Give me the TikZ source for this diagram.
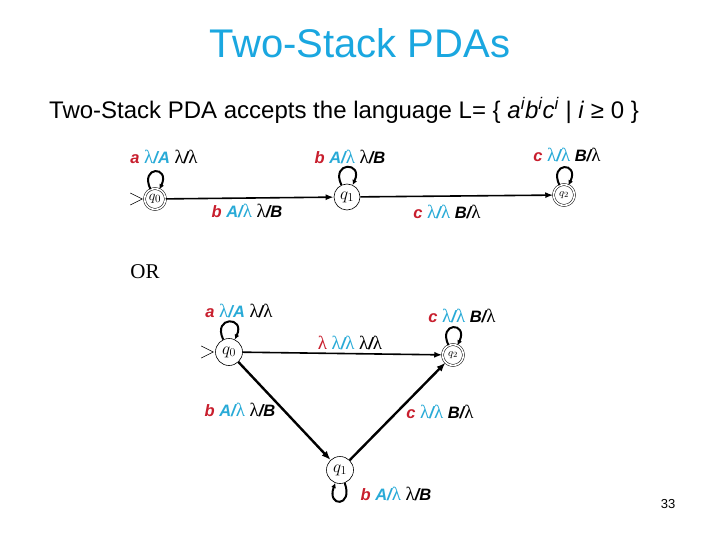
\documentclass[tikz,border=0pt]{standalone}
\usepackage{fontspec}
\setmainfont{Liberation Serif}
\setsansfont{Liberation Sans}
\newfontfamily\lamfont{Liberation Serif}
\usetikzlibrary{arrows.meta}
\definecolor{inred}{RGB}{200,30,45}
\definecolor{incyan}{RGB}{40,170,215}
\definecolor{titleblue}{RGB}{26,167,224}
\newcommand{\lm}{{\lamfont\upshape\mdseries\fontsize{19}{20}\selectfont λ}}
\newcommand{\trl}[3]{\textcolor{inred}{#1} \textcolor{incyan}{#2} #3}
\tikzset{
  st/.style={circle, draw, line width=0.6pt, inner sep=0pt, minimum size=#1, font=\fontsize{17}{18}\selectfont},
  acc/.style={circle, draw, line width=0.5pt, double, double distance=1.6pt, inner sep=0pt, minimum size=#1, font=\fontsize{15}{16}\selectfont},
  lab/.style={font=\fontsize{16.5}{19}\selectfont\sffamily\itshape\bfseries, inner sep=0pt},
  tedge/.style={line width=1.6pt, -{Latex[length=8pt,width=6pt]}},
  dedge/.style={line width=2.4pt, -{Latex[length=9pt,width=7pt]}},
  lp/.style={line width=2pt, -{Latex[length=5pt,width=5pt]}, min distance=26pt, max distance=26pt},
  startm/.style={line width=0.6pt},
}
\begin{document}
\begin{tikzpicture}[x=1pt,y=-1pt]
\useasboundingbox[fill=white] (0,0) rectangle (720,540);

\node[font=\fontsize{40}{44}\selectfont\sffamily, text=titleblue] (title) at (360,43) {Two-Stack PDAs};
\node[font=\fontsize{24}{28}\selectfont\sffamily] (sub) at (344,110) {Two-Stack PDA accepts the language L= \{ \textit{a\textsuperscript{i}b\textsuperscript{i}c\textsuperscript{i}} | \textit{i} ≥ 0 \}};
\node[font=\fontsize{21}{24}\selectfont\rmfamily] (or) at (145,272) {OR};
\node[font=\fontsize{13}{15}\selectfont\sffamily] (pg) at (668,504) {33};

% ---- top diagram ----
\node[acc=21pt] (a0) at (155,199) {$q_0$};
\node[st=26pt] (a1) at (347,197) {$q_1$};
\node[acc=21pt, font=\fontsize{11}{12}\selectfont] (a2) at (564,195) {$q_2$};

\coordinate (as) at ([xshift=-2pt]a0.west);
\draw[startm] ([shift={(-12,-6)}]as) -- (as) -- ([shift={(-12,6)}]as);

\draw[tedge] (a0) -- (a1);
\draw[tedge] (a1) -- (a2);
\draw[lp] (a0) to[out=115,in=65] (a0);
\draw[lp] (a1) to[out=115,in=65] (a1);
\draw[lp] (a2) to[out=115,in=65] (a2);

\node[lab] (la0) at (164,157) {\trl{a}{\lm/A}{\lm/\lm}};
\node[lab] (la1) at (350,157) {\trl{b}{A/\lm}{\lm/B}};
\node[lab] (la2) at (567,155) {\trl{c}{\lm/\lm}{B/\lm}};
\node[lab] (la01) at (247,211) {\trl{b}{A/\lm}{\lm/B}};
\node[lab] (la12) at (447,212) {\trl{c}{\lm/\lm}{B/\lm}};

% ---- bottom diagram ----
\node[st=27pt] (b0) at (229,352) {$q_0$};
\node[acc=21pt, font=\fontsize{11}{12}\selectfont] (b2) at (453,355) {$q_2$};
\node[st=27pt] (b1) at (340,470) {$q_1$};

\coordinate (bs) at ([xshift=-2pt]b0.west);
\draw[startm] ([shift={(-12,-6)}]bs) -- (bs) -- ([shift={(-12,6)}]bs);

\draw[tedge] (b0) -- (b2);
\draw[dedge] (b0) -- (b1);
\draw[dedge] (b1) -- (b2);
\draw[lp] (b0) to[out=115,in=65] (b0);
\draw[lp] (b2) to[out=115,in=65] (b2);
\draw[lp] (b1) to[out=-70,in=-110] (b1);

\node[lab] (lb0) at (239,311) {\trl{a}{\lm/A}{\lm/\lm}};
\node[lab] (lb2) at (462,316) {\trl{c}{\lm/\lm}{B/\lm}};
\node[lab] (lb02) at (350,343) {\trl{\lm}{\lm/\lm}{\lm/\lm}};
\node[lab] (lb01) at (240,410) {\trl{b}{A/\lm}{\lm/B}};
\node[lab] (lb12) at (440,412) {\trl{c}{\lm/\lm}{B/\lm}};
\node[lab] (lb1) at (396,494) {\trl{b}{A/\lm}{\lm/B}};
\end{tikzpicture}
\end{document}
